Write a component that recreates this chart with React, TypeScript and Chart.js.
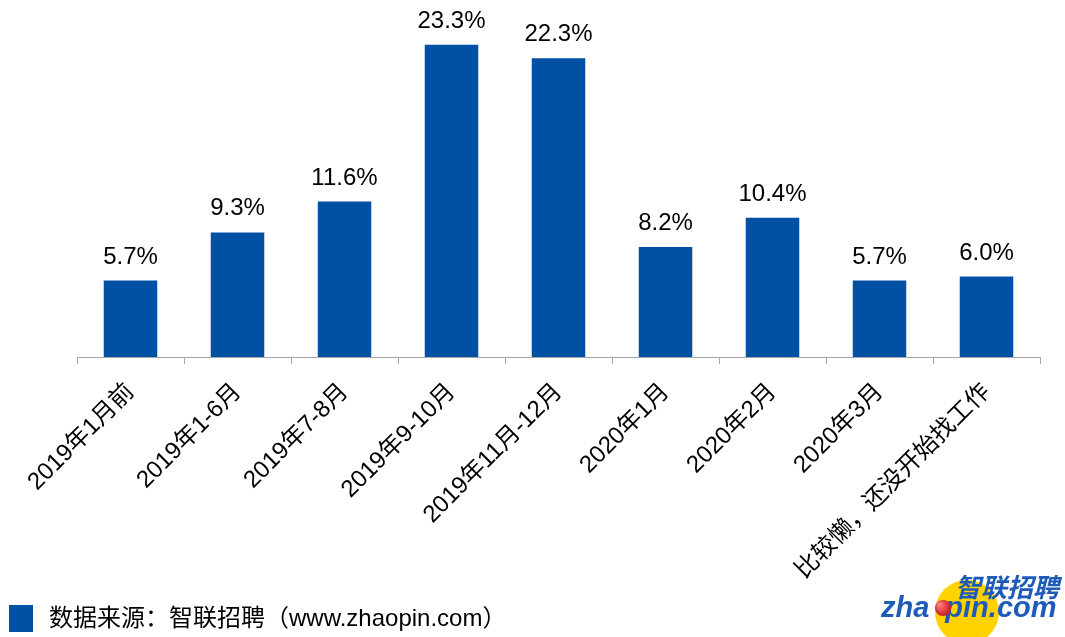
import React, { useEffect, useRef } from "react";
import { Chart, registerables } from "chart.js";

Chart.register(...registerables);

const categories = [
  "2019年1月前",
  "2019年1-6月",
  "2019年7-8月",
  "2019年9-10月",
  "2019年11月-12月",
  "2020年1月",
  "2020年2月",
  "2020年3月",
  "比较懒，还没开始找工作",
];
const values = [5.7, 9.3, 11.6, 23.3, 22.3, 8.2, 10.4, 5.7, 6.0];
const sourceNote = "数据来源：智联招聘（www.zhaopin.com）";
const logoCn = "智联招聘";
const logoEn = "zhaopin.com";

const FONT = "Arial, 'Liberation Sans', 'Noto Sans CJK SC', sans-serif";
const BLUE = "#0050A4";

const labelPlugin = {
  id: "valueLabels",
  afterDatasetsDraw(chart: any) {
    const ctx = chart.ctx;
    const meta = chart.getDatasetMeta(0);
    ctx.save();
    ctx.fillStyle = "#000";
    ctx.font = `24px ${FONT}`;
    ctx.textAlign = "center";
    ctx.textBaseline = "alphabetic";
    meta.data.forEach((bar: any, i: number) => {
      ctx.fillText(values[i].toFixed(1) + "%", bar.x, bar.y - 17);
    });
    ctx.restore();
  },
};

const footerPlugin = {
  id: "footer",
  afterDraw(chart: any) {
    const ctx = chart.ctx;
    ctx.save();
    ctx.fillStyle = BLUE;
    ctx.fillRect(9, 605, 24, 27);
    ctx.fillStyle = "#000";
    ctx.font = `24px ${FONT}`;
    ctx.textAlign = "left";
    ctx.textBaseline = "middle";
    ctx.fillText(sourceNote, 49, 619);

    // logo
    ctx.fillStyle = "#FFD200";
    ctx.beginPath();
    ctx.arc(967, 612, 32, 0, Math.PI * 2);
    ctx.fill();
    ctx.fillStyle = "#1E5BB8";
    ctx.font = `italic bold 26px ${FONT}`;
    ctx.textAlign = "left";
    ctx.textBaseline = "alphabetic";
    ctx.fillText(logoCn, 955, 597);
    ctx.font = `italic bold 29px ${FONT}`;
    ctx.fillText(logoEn.slice(0, 3), 881, 617);
    const w3 = ctx.measureText(logoEn.slice(0, 3)).width;
    ctx.fillText(logoEn.slice(4), 881 + w3 + 16, 617);
    const g = ctx.createRadialGradient(939, 604, 1, 943, 608, 9);
    g.addColorStop(0, "#ff8080");
    g.addColorStop(1, "#c8101a");
    ctx.fillStyle = g;
    ctx.beginPath();
    ctx.arc(943, 608, 8, 0, Math.PI * 2);
    ctx.fill();
    ctx.restore();
  },
};

export default function App() {
  const ref = useRef<HTMLCanvasElement | null>(null);
  useEffect(() => {
    if (!ref.current) return;
    const chart = new Chart(ref.current, {
      type: "bar",
      data: {
        labels: categories,
        datasets: [
          {
            data: values,
            backgroundColor: BLUE,
            barPercentage: 0.5,
            categoryPercentage: 1,
          },
        ],
      },
      options: {
        responsive: false,
        maintainAspectRatio: false,
        animation: false,
        layout: { padding: { left: 77, right: 25, top: 22, bottom: 0 } },
        plugins: {
          legend: { display: false },
          tooltip: { enabled: false },
        },
        scales: {
          x: {
            grid: {
              display: true,
              drawOnChartArea: false,
              drawTicks: true,
              tickLength: 7,
              color: "#a6a6a6",
              offset: true,
            },
            border: { display: true, color: "#a6a6a6", width: 1 },
            ticks: {
              minRotation: 45,
              maxRotation: 45,
              autoSkip: false,
              padding: 14,
              color: "#000",
              font: { size: 24, family: FONT },
            },
            afterFit(scale: any) {
              scale.paddingLeft = 0;
              scale.paddingRight = 0;
              scale.height = 280;
            },
          },
          y: { display: false, min: 0, max: 25 },
        },
      },
      plugins: [labelPlugin, footerPlugin],
    } as any);
    return () => chart.destroy();
  }, []);
  return (
    <div style={{ position: "absolute", left: 0, top: 0, width: 1065, height: 637, background: "#fff" }}>
      <canvas ref={ref} width={1065} height={637} style={{ width: 1065, height: 637 }} />
    </div>
  );
}
